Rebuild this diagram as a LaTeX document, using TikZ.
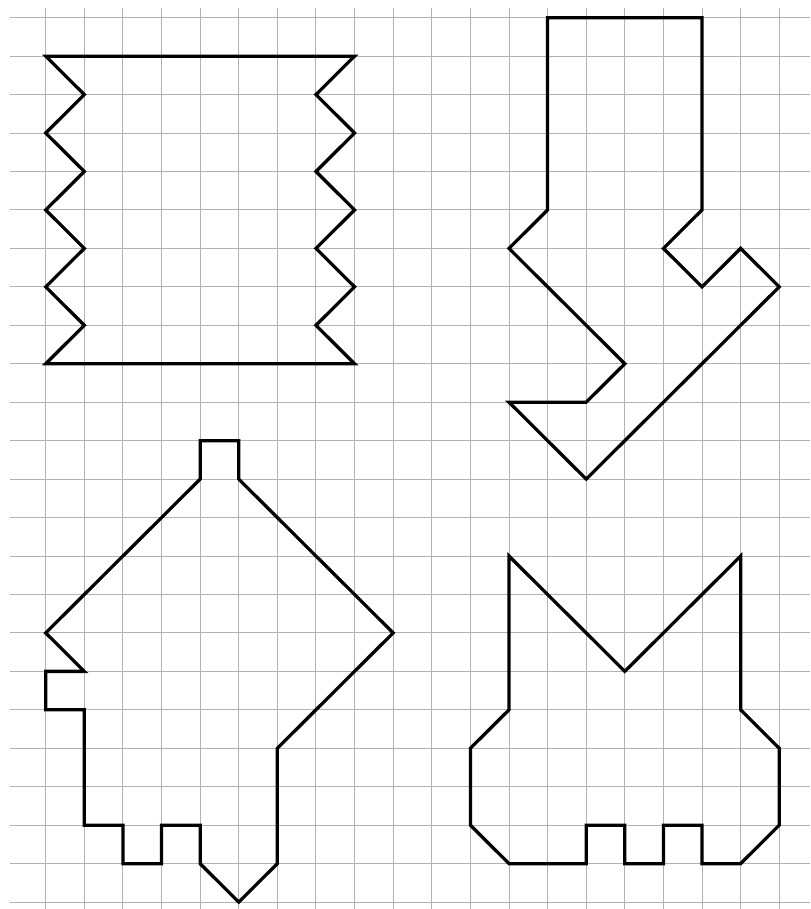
\documentclass[tikz,border=0pt]{standalone}
\usepackage{xcolor}
\usepackage{tikz}
\begin{document}
\begin{tikzpicture}[x=1cm,y=0.996cm]
	\useasboundingbox (-1.184,0.46) rectangle (19.80,-23.18);
	\draw[step=1.0,gray!60,line width=0.7pt] (-0.925,-23.18) grid (19.80,0.245);
	% zigzag box
	\draw[line width=2.4pt] (0,-1) -- (8,-1) -- (7,-2) -- (8,-3) -- (7,-4) -- (8,-5) -- (7,-6) -- (8,-7) -- (7,-8) -- (8,-9)
		-- (0,-9) -- (1,-8) -- (0,-7) -- (1,-6) -- (0,-5) -- (1,-4) -- (0,-3) -- (1,-2) -- cycle;
	% arrow
	\draw[line width=2.4pt] (13,0) -- (17,0) -- (17,-5) -- (16,-6) -- (17,-7) -- (18,-6) -- (19,-7) -- (14,-12)
		-- (12,-10) -- (14,-10) -- (15,-9) -- (12,-6) -- (13,-5) -- cycle;
	% house
	\draw[line width=2.4pt] (4,-11) -- (5,-11) -- (5,-12) -- (9,-16) -- (6,-19) -- (6,-22) -- (5,-23) -- (4,-22)
		-- (4,-21) -- (3,-21) -- (3,-22) -- (2,-22) -- (2,-21) -- (1,-21) -- (1,-18) -- (0,-18) -- (0,-17)
		-- (1,-17) -- (0,-16) -- (4,-12) -- cycle;
	% cat
	\draw[line width=2.4pt] (12,-14) -- (15,-17) -- (18,-14) -- (18,-18) -- (19,-19) -- (19,-21) -- (18,-22)
		-- (17,-22) -- (17,-21) -- (16,-21) -- (16,-22) -- (15,-22) -- (15,-21) -- (14,-21) -- (14,-22)
		-- (12,-22) -- (11,-21) -- (11,-19) -- (12,-18) -- cycle;
\end{tikzpicture}
\end{document}
